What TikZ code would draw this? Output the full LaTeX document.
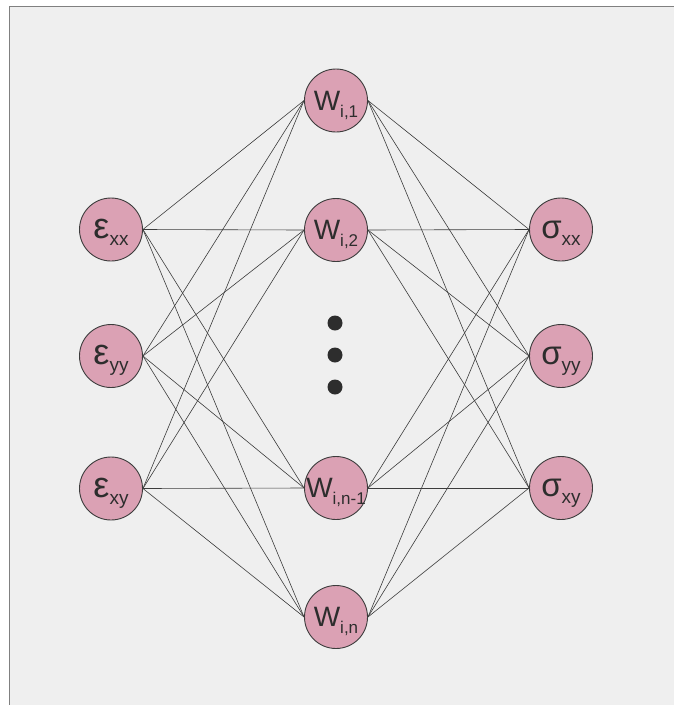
\documentclass[tikz,border=0pt]{standalone}
\usepackage{fontspec}
\setmainfont{Liberation Sans}
\definecolor{bgc}{RGB}{239,239,239}
\definecolor{framec}{RGB}{128,128,128}
\definecolor{nodefill}{RGB}{219,161,180}
\definecolor{edgec}{RGB}{60,60,60}
\definecolor{txtc}{RGB}{45,45,45}
\newcommand{\wlab}[1]{{\fontsize{28}{28}\selectfont W}\smash{\raisebox{-7pt}{\fontsize{17}{17}\selectfont #1}}}
\newcommand{\glab}[4]{\raisebox{#3}{{\fontsize{#4}{#4}\selectfont #1}\smash{\raisebox{-7pt}{\fontsize{19}{19}\selectfont #2}}}}
\begin{document}
\begin{tikzpicture}[x=1pt,y=-1pt,
  neuron/.style={circle,draw=edgec,fill=nodefill,line width=0.9pt,minimum size=63pt,inner sep=0pt},
  lab/.style={text=txtc,inner sep=0pt},
  conn/.style={draw=edgec,line width=0.6pt},
  dotnode/.style={circle,fill=txtc,minimum size=15pt,inner sep=0pt}]
\useasboundingbox (0,0) rectangle (673,705);
\fill[white] (0,0) rectangle (673,705);
\fill[bgc] (9.5,6.5) rectangle (680,712);
\draw[framec,line width=1.5pt] (9.5,712) -- (9.5,6.5) -- (680,6.5);
% input layer
\node[neuron,label={[lab]center:\glab{ε}{xx}{2pt}{36}}] (exx) at (111,229.5) {};
\node[neuron,label={[lab]center:\glab{ε}{yy}{2pt}{36}}] (eyy) at (111,356) {};
\node[neuron,label={[lab]center:\glab{ε}{xy}{2pt}{36}}] (exy) at (111,488.5) {};
% hidden layer
\node[neuron,label={[lab]center:\wlab{i,1}}] (w1) at (336,100.5) {};
\node[neuron,label={[lab]center:\wlab{i,2}}] (w2) at (336,230) {};
\node[neuron,label={[lab]center:\wlab{i,n-1}}] (wn1) at (336,488) {};
\node[neuron,label={[lab]center:\wlab{i,n}}] (wn) at (336,617) {};
% output layer
\node[neuron,label={[lab]center:\glab{σ}{xx}{0pt}{33}}] (sxx) at (561,229.5) {};
\node[neuron,label={[lab]center:\glab{σ}{yy}{0pt}{33}}] (syy) at (561,356) {};
\node[neuron,label={[lab]center:\glab{σ}{xy}{0pt}{33}}] (sxy) at (561,488) {};
% dots
\node[dotnode] (d1) at (335,323) {};
\node[dotnode] (d2) at (335,355) {};
\node[dotnode] (d3) at (335,387) {};
% connections
\foreach \i in {exx,eyy,exy}
  \foreach \h in {w1,w2,wn1,wn}
    \draw[conn] (\i.east) -- (\h.west);
\foreach \h in {w1,w2,wn1,wn}
  \foreach \o in {sxx,syy,sxy}
    \draw[conn] (\h.east) -- (\o.west);
\end{tikzpicture}
\end{document}
